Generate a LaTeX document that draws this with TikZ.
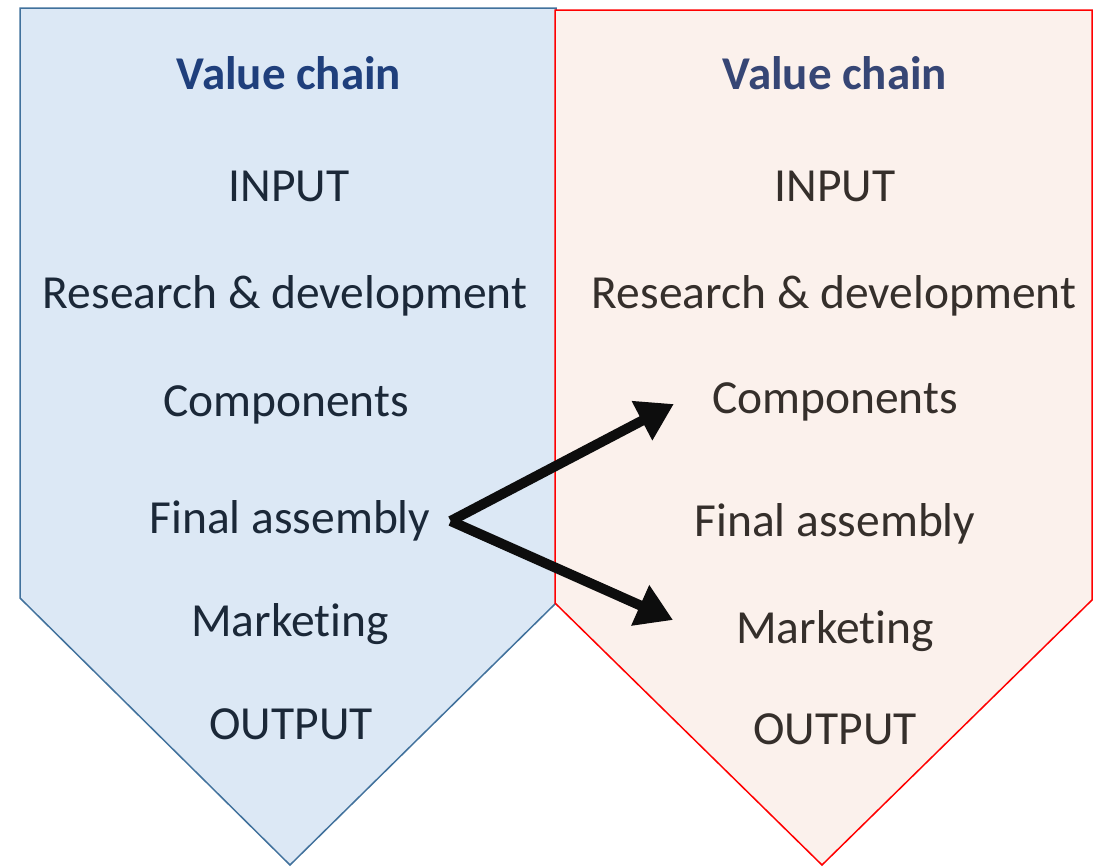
\documentclass[tikz,border=0pt]{standalone}
\usepackage{fontspec}
\setmainfont{Carlito}[Ligatures=NoCommon]
\usetikzlibrary{arrows.meta,positioning,calc}
\definecolor{chainblue}{HTML}{DCE8F5}
\definecolor{chainblueline}{HTML}{41719C}
\definecolor{chainrose}{HTML}{FBF1EC}
\definecolor{chainred}{HTML}{FF0000}
\definecolor{headblue}{HTML}{1F3F7C}
\definecolor{headslate}{HTML}{364675}
\definecolor{textnavy}{HTML}{1B2838}
\definecolor{textbrown}{HTML}{352F2B}

\begin{document}
\begin{tikzpicture}[
  x=1pt, y=-1pt,
  font=\fontsize{47.5}{57}\selectfont,
  chainshape/.style={
    line width=1.5pt,
    line join=miter
  },
  headline/.style={
    font=\fontsize{47}{57}\selectfont\bfseries,
    inner sep=0pt
  },
  stepname/.style={
    inner sep=0pt
  },
  linkarrow/.style={
    -{Triangle[length=36pt,width=42pt]},
    line width=10pt,
    draw=black!95
  }
]

  % canvas
  \useasboundingbox (0,0) rectangle (1104,868);

  % -------------------------------------------------------------
  % LEFT CHAIN
  % -------------------------------------------------------------
  \draw[chainshape, draw=chainblueline, fill=chainblue]
    (20,8) -- (556,8) -- (556,603) -- (290,865) -- (20,598) -- cycle;

  \node[headline, text=headblue] (vc1) at (289,73) {Value chain};
  \node[stepname, text=textnavy] (in1) at (289,186) {INPUT};
  \node[stepname, text=textnavy] (rd1) at (285,296) {Research \& development};
  \node[stepname, text=textnavy] (cp1) at (286,405) {Components};
  \node[stepname, text=textnavy] (fa1) at (290,521) {Final assembly};
  \node[stepname, text=textnavy] (mk1) at (290,624) {Market\kern0pt ing};
  \node[stepname, text=textnavy] (ou1) at (291,724) {OUTPUT};

  % -------------------------------------------------------------
  % RIGHT CHAIN
  % -------------------------------------------------------------
  \draw[chainshape, draw=chainred, fill=chainrose]
    (555,10) -- (1092,10) -- (1092,600) -- (822,865) -- (555,603) -- cycle;

  \node[headline, text=headslate] (vc2) at (835,73) {Value chain};
  \node[stepname, text=textbrown] (in2) at (835,186) {INPUT};
  \node[stepname, text=textbrown] (rd2) at (834,296) {Research \& development};
  \node[stepname, text=textbrown] (cp2) at (835,402) {Components};
  \node[stepname, text=textbrown] (fa2) at (835,524) {Final assembly};
  \node[stepname, text=textbrown] (mk2) at (835,631) {Market\kern0pt ing};
  \node[stepname, text=textbrown] (ou2) at (835,729) {OUTPUT};

  % split from final assembly into the other chain
  \coordinate[right=20pt of fa1.east] (fork);
  \coordinate (cptip) at ($(cp2.west)+(-38,2)$);
  \coordinate (mktip) at ($(mk2.west)+(-63,-11)$);
  \draw[linkarrow] (fork) -- (cptip);
  \draw[linkarrow] (fork) -- (mktip);

\end{tikzpicture}
\end{document}
